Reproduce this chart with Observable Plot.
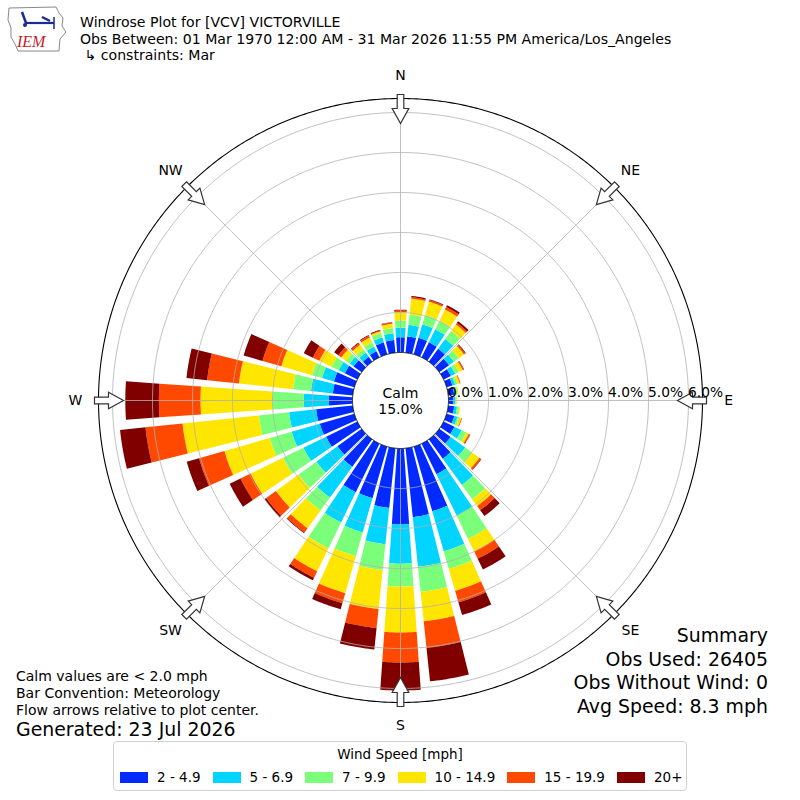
<!DOCTYPE html>
<html>
<head>
<meta charset="utf-8">
<script src="https://cdn.jsdelivr.net/npm/d3@7"></script>
<script src="https://cdn.jsdelivr.net/npm/@observablehq/plot@0.6"></script>
<style>
  body { margin: 0; background: #fff; font-family: "DejaVu Sans", sans-serif; }
  #wrap { position: relative; width: 800px; height: 800px; overflow: hidden; background: #fff; }
  #wrap > svg.chart { position: absolute; left: 0; top: 0; }
  .t { position: absolute; white-space: pre; color: #000; line-height: 1; font-family: "DejaVu Sans", sans-serif; }
  #legend { position: absolute; left: 113px; top: 741px; width: 572px; height: 48px; border: 1px solid #d0d0d0; border-radius: 4px; background: #fff; font-size: 13.5px; white-space: nowrap; }
  #legend .title { position: absolute; left: 0; right: 0; top: 4px; text-align: center; }
  #legend .row { position: absolute; left: 6px; top: 27px; width: 600px; display: flex; align-items: center; }
  #legend .sw { width: 28px; height: 11px; margin-right: 9px; flex: none; }
  #legend .lab { margin-right: 12px; flex: none; white-space: nowrap; }
</style>
</head>
<body>
<div id="wrap"></div>
<script>
// ---------------- data ----------------
const directions = d3.range(0, 360, 10); // bar directions (degrees, meteorological)
const speedBins = ["2 - 4.9", "5 - 6.9", "7 - 9.9", "10 - 14.9", "15 - 19.9", "20+"];
const binColors = ["#002aff", "#00d4ff", "#7bff7b", "#ffe600", "#ff4900", "#800000"];

// frequency (% of obs) per direction for each speed bin
const pct2to5   = [0.38,0.41,0.43,0.42,0.40,0.30,0.20,0.15,0.15,0.12,0.15,0.20,0.30,0.35,0.60,0.85,1.68,1.73,1.90,1.50,1.34,1.35,0.85,0.75,0.87,0.90,0.92,0.59,0.50,0.53,0.35,0.25,0.15,0.17,0.31,0.32];
const pct5to7   = [0.24,0.29,0.35,0.36,0.30,0.15,0.12,0.07,0.05,0.05,0.07,0.08,0.20,0.45,0.81,1.15,1.04,1.25,0.98,0.91,0.89,0.84,0.95,0.65,0.63,0.73,0.68,0.63,0.55,0.31,0.17,0.12,0.13,0.13,0.13,0.17];
const pct7to10  = [0.18,0.26,0.24,0.24,0.25,0.15,0.10,0.06,0.03,0.03,0.05,0.05,0.13,0.22,0.44,0.65,0.46,0.63,0.57,0.65,0.62,0.72,0.40,0.55,0.57,0.57,0.76,0.79,0.45,0.26,0.20,0.12,0.10,0.12,0.11,0.13];
const pct10to15 = [0.21,0.40,0.35,0.31,0.20,0.16,0.11,0.06,0.03,0.02,0.03,0.05,0.07,0.22,0.21,0.35,0.57,0.74,1.15,0.98,0.96,0.64,0.55,0.70,0.90,1.18,1.92,1.79,1.36,0.80,0.34,0.14,0.14,0.13,0.05,0.11];
const pct15to20 = [0.04,0.04,0.04,0.07,0.05,0.04,0.03,0.02,0.00,0.00,0.00,0.02,0.03,0.05,0.13,0.20,0.30,0.67,0.75,0.48,0.26,0.18,0.13,0.30,0.28,0.66,0.93,1.04,0.80,0.49,0.18,0.09,0.05,0.05,0.02,0.03];
const pct20plus = [0.02,0.03,0.02,0.05,0.05,0.02,0.01,0.00,0.00,0.00,0.00,0.00,0.01,0.01,0.18,0.30,0.33,0.84,0.70,0.54,0.16,0.07,0.02,0.05,0.30,0.32,0.64,0.84,0.52,0.49,0.25,0.13,0.02,0.02,0.02,0.01];

const calmPct = 15.0;
const ringTicks = [0, 1, 2, 3, 4, 5, 6];
const compass = [
  {name: "N", angle: 0}, {name: "NE", angle: 45}, {name: "E", angle: 90}, {name: "SE", angle: 135},
  {name: "S", angle: 180}, {name: "SW", angle: 225}, {name: "W", angle: 270}, {name: "NW", angle: 315}
];
const titleLines = [
  "Windrose Plot for [VCV] VICTORVILLE",
  "Obs Between: 01 Mar 1970 12:00 AM - 31 Mar 2026 11:55 PM America/Los_Angeles",
  " \u21b3 constraints: Mar"
];
const noteLines = ["Calm values are < 2.0 mph", "Bar Convention: Meteorology", "Flow arrows relative to plot center."];
const generated = "Generated: 23 Jul 2026";
const summaryLines = ["Summary", "Obs Used: 26405", "Obs Without Wind: 0", "Avg Speed: 8.3 mph"];
const legendTitle = "Wind Speed [mph]";

// ---------------- polar mapping via azimuthal projection ----------------
const R0 = 12;          // angular radius of calm disc
const K = 10;           // angular degrees per 1 %
const OUTER_PCT = 6.35; // outer frame circle
const rDeg = p => R0 + K * p;
const lat = p => 90 - rDeg(p);
const lon = a => 180 - a;   // compass angle -> longitude (N up, clockwise)
const HALF = 4;             // half bar width (degrees of direction)

const series = [pct2to5, pct5to7, pct7to10, pct10to15, pct15to20, pct20plus];
const rows = [];
directions.forEach((dir, i) => {
  let cum = 0;
  series.forEach((vals, j) => {
    const v = vals[i];
    if (v > 0) rows.push({dir, bin: speedBins[j], lo: cum, hi: cum + v});
    cum += v;
  });
});

function wedge(d) {
  const n = 12, a0 = d.dir - HALF, a1 = d.dir + HALF;
  const outer = d3.range(n + 1).map(k => [lon(a0 + (a1 - a0) * k / n), lat(d.hi)]);
  const inner = d3.range(n + 1).map(k => [lon(a1 - (a1 - a0) * k / n), lat(d.lo)]);
  const ring = [...outer, ...inner, outer[0]];
  let g = {type: "Polygon", coordinates: [ring]};
  if (d3.geoArea(g) > 2 * Math.PI) g = {type: "Polygon", coordinates: [ring.slice().reverse()]};
  return g;
}
const circle = p => d3.geoCircle().center([0, 90]).radius(rDeg(p)).precision(0.5)();

const blockArrow = {
  draw(ctx, l) {
    const sw = 3.3, hw = 8.3, hl = 15;
    ctx.moveTo(-sw, 0);
    ctx.lineTo(-sw, -(l - hl));
    ctx.lineTo(-hw, -(l - hl));
    ctx.lineTo(0, -l);
    ctx.lineTo(hw, -(l - hl));
    ctx.lineTo(sw, -(l - hl));
    ctx.lineTo(sw, 0);
    ctx.closePath();
  }
};

const compassOther = compass.filter(d => d.name !== "E");
const compassEast = compass.filter(d => d.name === "E");

const chart = Plot.plot({
  width: 800,
  height: 800,
  margin: 98,
  projection: {
    type: "azimuthal-equidistant",
    rotate: [0, -90],
    domain: circle(OUTER_PCT),
    clip: false
  },
  color: {domain: speedBins, range: binColors},
  style: {fontFamily: "DejaVu Sans, sans-serif", fontSize: "14px", background: "white", overflow: "visible"},
  marks: [
    Plot.geo(rows, {geometry: wedge, fill: "bin", stroke: "none"}),
    Plot.geo(ringTicks.slice(1), {geometry: circle, fill: "none", stroke: "#b0b0b0", strokeWidth: 0.8}),
    Plot.link(compass, {x1: d => lon(d.angle), y1: lat(0), x2: d => lon(d.angle), y2: lat(OUTER_PCT), stroke: "#b0b0b0", strokeWidth: 0.8}),
    Plot.geo([OUTER_PCT], {geometry: circle, fill: "none", stroke: "black", strokeWidth: 1.1}),
    Plot.geo([0], {geometry: circle, fill: "white", stroke: "black", strokeWidth: 1}),
    Plot.vector(compass, {
      x: d => lon(d.angle), y: lat(6.45),
      rotate: d => d.angle + 180, length: 29, anchor: "start",
      shape: blockArrow, stroke: "#333", fill: "white", strokeWidth: 1.2, strokeLinejoin: "miter"
    }),
    Plot.text(compassOther, {x: d => lon(d.angle), y: lat(6.93), text: "name", fontSize: 14, fill: "black"}),
    Plot.text(compassEast, {x: d => lon(d.angle), y: lat(6.93), text: "name", fontSize: 14, fill: "black", dx: 3}),
    Plot.text(ringTicks, {x: lon(90), y: p => lat(p), text: p => p.toFixed(1) + "%", textAnchor: "start", dx: -0.5, dy: -8, fontSize: 13.8, fill: "black"}),
    Plot.text([calmPct], {x: 0, y: 90, text: d => `Calm\n${d.toFixed(1)}%`, fontSize: 14, lineHeight: 1.15, fill: "black"})
  ]
});
chart.classList.add("chart");
const wrap = document.getElementById("wrap");
wrap.appendChild(chart);

// ---------------- annotations ----------------
function place(text, x, baseline, size, align = "left") {
  const el = document.createElement("div");
  el.className = "t";
  el.textContent = text;
  el.style.fontSize = size + "px";
  el.style.top = (baseline - 0.846 * size) + "px";
  if (align === "right") el.style.right = (800 - x) + "px";
  else el.style.left = x + "px";
  wrap.appendChild(el);
}
titleLines.forEach((s, i) => place(s, 80, 27 + i * 16.7, 14.1));
noteLines.forEach((s, i) => place(s, 16, 681 + i * 17, 14));
place(generated, 16, 736, 18.9);
summaryLines.forEach((s, i) => place(s, 768, 642 + i * 23.5, 18.9, "right"));

// legend
const lg = document.createElement("div");
lg.id = "legend";
const lt = document.createElement("div");
lt.className = "title"; lt.textContent = legendTitle;
lg.appendChild(lt);
const row = document.createElement("div");
row.className = "row";
speedBins.forEach((b, i) => {
  const sw = document.createElement("div");
  sw.className = "sw"; sw.style.background = binColors[i];
  const lb = document.createElement("div");
  lb.className = "lab"; lb.textContent = b;
  row.appendChild(sw); row.appendChild(lb);
});
lg.appendChild(row);
wrap.appendChild(lg);

// IEM logo
const logo = document.createElementNS("http://www.w3.org/2000/svg", "svg");
logo.setAttribute("width", "66"); logo.setAttribute("height", "54");
logo.style.position = "absolute"; logo.style.left = "4px"; logo.style.top = "2px";
logo.innerHTML = `
  <path d="M5,6 L52,5 L55,11 L59,16 L58,24 L62,30 L56,37 L55,49 L14,49 L11,42 L7,35 L7,26 L4,18 Z" fill="none" stroke="#888" stroke-width="1"/>
  <path d="M21,21 L50,21" stroke="#1a2a9c" stroke-width="2.2"/>
  <path d="M50,15 L50,27" stroke="#1a2a9c" stroke-width="1.5"/>
  <path d="M18,10 L22,21 M38,15 L46,19" stroke="#1a2a9c" stroke-width="2.5"/>
  <circle cx="21" cy="23" r="2" fill="#1a2a9c"/>
  <text x="13" y="45" font-family="Liberation Serif, serif" font-style="italic" font-size="16" fill="#c8202a">IEM</text>`;
wrap.appendChild(logo);
</script>
</body>
</html>
